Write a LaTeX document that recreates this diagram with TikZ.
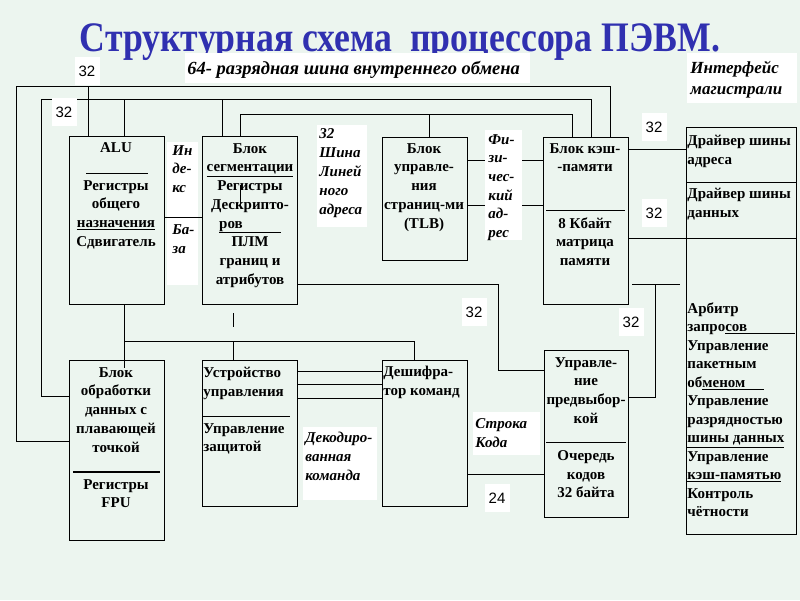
\documentclass[tikz,border=0pt]{standalone}
\usepackage{fontspec}
\setmainfont{Liberation Serif}
\setsansfont{Liberation Sans}
\definecolor{paper}{RGB}{236,245,239}
\definecolor{titleblue}{RGB}{48,48,176}

\begin{document}
\begin{tikzpicture}
  [x=1pt, y=-1pt, line width=0.9pt,
   box/.style={draw, anchor=north west, inner sep=0pt, outer sep=0pt},
   tx/.style={font=\bfseries\fontsize{15}{18.7}\selectfont, align=center, inner sep=0pt, anchor=north},
   txl/.style={tx, align=left, anchor=north west},
   bg/.style={fill=white, anchor=north west, inner sep=0pt},
   it/.style={font=\bfseries\itshape\fontsize{15}{18.7}\selectfont, align=left, inner sep=0pt, anchor=north west},
   num/.style={fill=white, font=\sffamily\fontsize{15}{15}\selectfont, minimum width=25pt, minimum height=28pt, inner sep=0pt}]
  \fill[paper] (0,0) rectangle (800,600);
  \useasboundingbox (0,0) rectangle (800,600);

  \node[font=\bfseries\fontsize{42}{42}\selectfont, text=titleblue, anchor=base] (title) at (400,51)
    {\scalebox{0.85}[1]{Структурная схема\ \ процессора ПЭВМ.}};

  % blocks
  \node[box, minimum width=95pt, minimum height=168pt] (alu) at (69,136) {};
  \node[box, minimum width=95pt, minimum height=168pt] (seg) at (202,136) {};
  \node[box, minimum width=85pt, minimum height=123pt] (tlb) at (382,137) {};
  \node[box, minimum width=85pt, minimum height=167pt] (cache) at (543,137) {};
  \node[box, minimum width=110pt, minimum height=407pt] (iface) at (686,127) {};
  \node[box, minimum width=95pt, minimum height=180pt] (fpu) at (69,360) {};
  \node[box, minimum width=95pt, minimum height=146pt] (cu) at (202,360) {};
  \node[box, minimum width=85pt, minimum height=146pt] (dec) at (382,360) {};
  \node[box, minimum width=84pt, minimum height=167pt] (pref) at (544,350) {};

  % buses
  \coordinate (busA) at (16,86);
  \coordinate (busB) at (41,99);
  \coordinate (busC) at (240,114);
  \draw ([yshift=-81pt]fpu.north west) -| (busA) -| ([xshift=67pt]cache.north west);
  \draw ([yshift=-36pt]fpu.north west) -| (busB) -| ([xshift=48pt]cache.north west);
  \draw ([xshift=38pt]seg.north west) |- (busC) -| ([xshift=29pt]cache.north west);
  \coordinate (a1) at ([xshift=19pt]alu.north west);
  \coordinate (a2) at ([xshift=55pt]alu.north west);
  \coordinate (s1) at ([xshift=20pt]seg.north west);
  \coordinate (t1) at ([xshift=47pt]tlb.north west);
  \draw (a1) -- (a1 |- busA);
  \draw (a2) -- (a2 |- busB);
  \draw (s1) -- (s1 |- busB);
  \draw (t1) -- (t1 |- busC);

  % links between blocks
  \coordinate (a3) at ([xshift=55pt]alu.south west);
  \coordinate (f1) at ([xshift=55pt,yshift=-8pt]fpu.north west);
  \draw (a3) -- (f1);
  \coordinate (busD) at (124,341);
  \draw (busD) -| ([xshift=32pt]dec.north west);
  \coordinate (c1) at ([xshift=31pt]cu.north west);
  \draw (c1) -- (c1 |- busD);
  \draw ([xshift=31pt,yshift=-9pt]seg.south west) -- ([xshift=31pt,yshift=-23pt]seg.south west);
  \coordinate (bend) at (498,284);
  \draw ([yshift=20pt]seg.south east) -- (bend) |- ([yshift=-20pt]pref.north west);
  \foreach \d in {11,24,38}
    \draw ([yshift=-\d]cu.north east) -- ([yshift=-\d]dec.north west);
  \draw ([yshift=-114pt]dec.north east) -- ([yshift=-124pt]pref.north west);
  \foreach \d in {23,68}
    \draw ([yshift=-\d]tlb.north east) -- ([yshift=-\d]cache.north west);
  \draw ([yshift=-12pt]cache.north east) -- ([yshift=-22pt]iface.north west);
  \draw ([yshift=-101pt]cache.north east) -- ([yshift=-111pt]iface.north west);
  \coordinate (tee) at (655,284);
  \draw ([yshift=-47pt]pref.north east) -| (tee);
  \coordinate (tl) at (632,284);
  \coordinate (tr) at (680,284);
  \draw (tl) -- (tr);

  % dividers
  \draw ([xshift=17pt,yshift=-37pt]alu.north west) -- ([xshift=79pt,yshift=-37pt]alu.north west);
  \draw ([xshift=3pt,yshift=-73pt]cache.north west) -- ([xshift=82pt,yshift=-73pt]cache.north west);
  \draw ([yshift=-55pt]iface.north west) -- ([yshift=-55pt]iface.north east);
  \draw ([yshift=-111pt]iface.north west) -- ([yshift=-111pt]iface.north east);
  \draw[line width=2pt] ([xshift=4pt,yshift=-112pt]fpu.north west) -- ([xshift=91pt,yshift=-112pt]fpu.north west);
  \draw ([xshift=1pt,yshift=-56pt]cu.north west) -- ([xshift=88pt,yshift=-56pt]cu.north west);
  \draw ([xshift=2pt,yshift=-92pt]pref.north west) -- ([xshift=82pt,yshift=-92pt]pref.north west);
  \draw ([xshift=38pt,yshift=-49pt]seg.north west) -- ([xshift=38pt,yshift=-72pt]seg.north west);

  % block texts
  \node[tx] (alu1) at (116,142) {ALU};
  \node[tx] (alu2) at (116,180) {Регистры\\общего\\\underline{назначения}\\Сдвигатель};
  \node[tx] (seg1) at (250,143) {Блок\\\underline{сегментации}\\Регистры\\Дескрипто-\\\underline{ров\hspace*{38pt}}\\ПЛМ\\границ и\\атрибутов};
  \node[tx] (tlb1) at (424,143) {Блок\\управле-\\ния\\страниц-ми\\(TLB)};
  \node[tx] (cache1) at (585,143) {Блок кэш-\\-памяти};
  \node[tx] (cache2) at (585,217) {8 Кбайт\\матрица\\памяти};
  \node[txl] (iface1) at (687,135) {Драйвер шины\\адреса};
  \node[txl] (iface2) at (687,188) {Драйвер шины\\данных};
  \node[txl, font=\bfseries\fontsize{15}{18.5}\selectfont] (iface3) at (687,302)
    {Арбитр\\запро\underline{сов\hspace*{48pt}}\\Управление\\пакетным\\об\underline{меном\hspace*{19pt}}\\Управление\\разрядностью\\\underline{шины данных}\\Управление\\\underline{кэш-памятью}\\Контроль\\чётности};
  \node[tx] (fpu1) at (116,367) {Блок\\обработки\\данных с\\плавающей\\точкой};
  \node[tx] (fpu2) at (116,479) {Регистры\\FPU};
  \node[txl] (cu1) at (203,367) {Устройство\\управления};
  \node[txl] (cu2) at (203,423) {Управление\\защитой};
  \node[txl] (dec1) at (383,366) {Дешифра-\\тор команд};
  \node[tx] (pref1) at (586,357) {Управле-\\ние\\предвыбор-\\кой};
  \node[tx] (pref2) at (586,450) {Очередь\\кодов\\32 байта};

  % labels
  \node[num] (n32a) at (87,71) {32};
  \node[bg, minimum width=345pt, minimum height=30pt] (bus64bg) at (185,53) {};
  \node[it, font=\bfseries\itshape\fontsize{18.5}{21}\selectfont] (bus64) at (187,61) {64- разрядная шина внутреннего обмена};
  \node[bg, minimum width=110pt, minimum height=50pt] (ifacebg) at (687,53) {};
  \node[it, font=\bfseries\itshape\fontsize{17}{21}\selectfont] (ifacel) at (690,61) {Интерфейс\\магистрали};
  \node[num] (n32b) at (64,112) {32};
  \node[bg, minimum width=31pt, minimum height=143pt] (idxbg) at (167,142) {};
  \node[it] (idx) at (172,145) {Ин\\де-\\кс\\[23.5pt]Ба-\\за};
  \node[bg, minimum width=50pt, minimum height=102pt] (linbg) at (317,125) {};
  \node[it, font=\bfseries\itshape\fontsize{15}{19}\selectfont] (lin) at (319,128) {32\\Шина\\Линей\\ного\\адреса};
  \node[bg, minimum width=37pt, minimum height=110pt] (physbg) at (485,130) {};
  \node[it, font=\bfseries\itshape\fontsize{15}{18.6}\selectfont] (phys) at (488,134) {Фи-\\зи-\\чес-\\кий\\ад-\\рес};
  \node[num] (n32c) at (654,127) {32};
  \node[num] (n32d) at (654,213) {32};
  \node[num] (n32e) at (474,312) {32};
  \node[num] (n32f) at (631,322) {32};
  \node[bg, minimum width=67pt, minimum height=43pt] (strbg) at (473,412) {};
  \node[it] (str) at (475,418) {Строка\\Кода};
  \node[num] (n24) at (497,498) {24};
  \node[bg, minimum width=74pt, minimum height=73pt] (decbg) at (303,427) {};
  \node[it] (decl) at (305,432) {Декодиро-\\ванная\\команда};
  \draw ([yshift=-81pt]alu.north east) -- ([yshift=-81pt]seg.north west);
\end{tikzpicture}
\end{document}
